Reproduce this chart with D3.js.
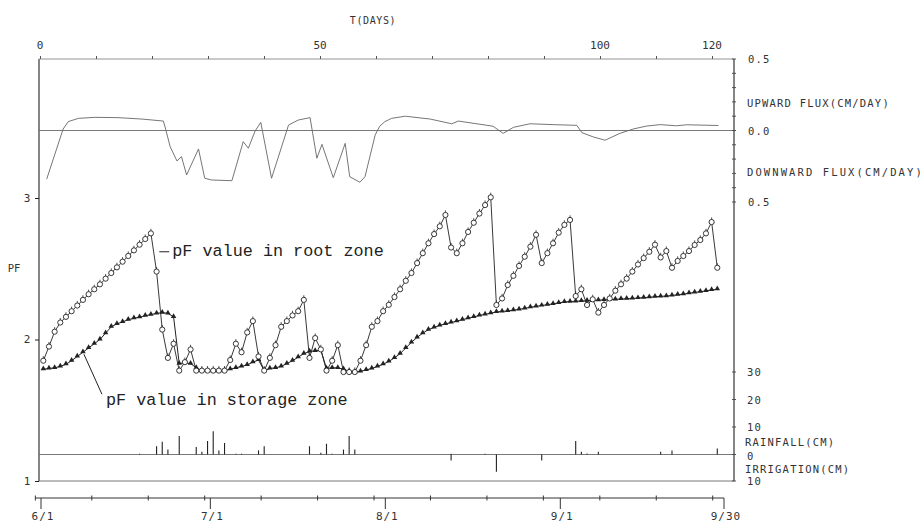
<!DOCTYPE html>
<html><head><meta charset="utf-8">
<script src="https://cdn.jsdelivr.net/npm/d3@7"></script>
<style>body{margin:0;background:#fff}svg{display:block}</style>
</head><body>
<svg id="chart" width="924" height="530"></svg>
<script>
// ---------- data ----------
// pF value in root zone, one value per day (day 0 = 6/1)
const rootPF = [
 1.85,1.95,2.055,2.12,2.16,2.20,2.24,2.28,2.32,2.355,2.39,2.43,2.47,2.51,2.55,2.59,2.63,2.67,2.71,2.75,
 2.48,2.07,1.87,1.97,1.78,1.84,1.93,1.78,1.78,1.78,
 1.78,1.78,1.78,1.855,1.97,1.91,2.05,2.13,1.88,1.78,
 1.87,1.96,2.09,2.13,2.17,2.20,2.28,1.87,2.01,1.93,
 1.78,1.85,1.96,1.77,1.77,1.77,1.85,1.96,2.09,2.13,
 2.20,2.245,2.30,2.355,2.415,2.47,2.54,2.61,2.68,2.745,
 2.80,2.88,2.65,2.61,2.68,2.76,2.825,2.89,2.95,3.005,
 2.244,2.29,2.385,2.45,2.52,2.585,2.656,2.74,2.54,2.61,
 2.68,2.755,2.81,2.845,2.307,2.355,2.244,2.284,2.19,2.244,
 2.29,2.345,2.39,2.43,2.48,2.53,2.575,2.62,2.67,2.58,
 2.625,2.507,2.555,2.59,2.625,2.668,2.703,2.75,2.83,2.507];
// pF value in storage zone, one value per day
const storagePF = [
 1.79,1.795,1.80,1.81,1.825,1.85,1.88,1.91,1.94,1.97,
 2.00,2.045,2.09,2.11,2.125,2.14,2.15,2.158,2.168,2.176,
 2.185,2.19,2.185,2.16,1.83,1.835,1.83,1.80,1.78,1.777,
 1.777,1.777,1.78,1.79,1.80,1.81,1.82,1.84,1.855,1.78,
 1.795,1.80,1.81,1.83,1.85,1.875,1.90,1.915,1.92,1.925,
 1.795,1.80,1.80,1.79,1.775,1.77,1.775,1.785,1.795,1.81,
 1.825,1.845,1.87,1.90,1.94,1.98,2.015,2.045,2.07,2.085,
 2.10,2.11,2.12,2.13,2.14,2.15,2.16,2.17,2.178,2.186,
 2.195,2.198,2.202,2.207,2.213,2.22,2.228,2.234,2.24,2.246,
 2.252,2.259,2.265,2.268,2.27,2.272,2.274,2.276,2.278,2.28,
 2.282,2.284,2.286,2.288,2.29,2.293,2.296,2.299,2.302,2.305,
 2.307,2.311,2.316,2.321,2.327,2.333,2.338,2.344,2.35,2.355];
// flux (cm/day), positive = upward
const fluxDay = [0.6,3.5,4.4,6.2,9.1,13.2,17.4,21.2,21.6,22.4,23.6,24.4,25.3,27.4,28.5,29.7,33.3,35.3,36.2,37.4,38.4,40.3,43.3,45,47.1,48.3,49.2,51.2,53.3,54.1,55.9,56.8,58.6,59.4,60.3,61.5,63.9,68.3,72.1,73.3,79.4,81.2,83,85.9,90,94.2,95.1,97.1,99.2,101.8,104.2,106.5,108.9,111.8,113.6,119.2];
const fluxValue = [-0.34,0.01,0.062,0.085,0.092,0.09,0.08,0.066,0.01,-0.113,-0.213,-0.183,-0.311,-0.129,-0.334,-0.346,-0.351,-0.078,-0.124,-0.003,0.057,-0.334,0.038,0.073,0.09,-0.194,-0.097,-0.33,-0.09,-0.323,-0.362,-0.323,-0.031,0.03,0.062,0.085,0.10,0.08,0.047,0.066,0.03,-0.02,0.022,0.047,0.041,0.036,-0.015,-0.045,-0.068,-0.02,0.011,0.031,0.041,0.033,0.04,0.035];
// rainfall (cm)
const rainDay = [17,20,21,22,24,27,28,29,30,31,32,34,35,38,39,47,49,50,51,53,54,55,72,78,94,95,96,98,109,111,119];
const rainCm  = [0.3,3,4.6,1.8,6.7,2.7,1,4.9,8.5,1.5,4.2,0.3,0.3,1.5,3,3,0.6,3.9,0.3,1.8,6.7,1.8,0.3,0.3,4.9,1,0.4,1,1,1.5,2.2];
// irrigation (cm)
const irrDay = [72,80,88];
const irrCm  = [2.3,6.5,2.3];
// tick labels
const dayTickLabels = [0,50,100,120];
const pfTickLabels = [1,2,3];
const fluxTickValues = [0.5,0,-0.5];
const fluxTickLabels = ["0.5","0.0","0.5"];
const rainTickValues = [30,20,10,0];
const irrTickValues = [10];
const dateLabels = ["6/1","7/1","8/1","9/1","9/30"];
const dateValues = [new Date(2001,5,1),new Date(2001,6,1),new Date(2001,7,1),new Date(2001,8,1),new Date(2001,8,30)];

// ---------- scales ----------
const x = d3.scaleLinear([0,119],[43.3,717.3]);          // daily data
const xTop = d3.scaleLinear([0,120],[40,712]);           // T(DAYS) axis
const xDate = d3.scaleTime([dateValues[0], dateValues[4]],[41,724]);
const yPF = d3.scaleLinear([1,3],[481,198]);
const yFlux = d3.scaleLinear([-0.5,0.5],[202,59]);
const yRain = d3.scaleLinear([0,30],[454.5,372]);
const yIrr = d3.scaleLinear([0,10],[454.5,481]);

const svg = d3.select("#chart");
const ink = "#222", grey = "#6a6a6a";
const plotFont = "DejaVu Sans Mono, monospace";
const xL = 39, xR = 734;

// ---------- frame lines ----------
const g = svg.append("g").attr("fill","none");
g.append("line").attr("x1",xL).attr("x2",xL).attr("y1",yFlux(0.5)).attr("y2",yPF(1)).attr("stroke",ink).attr("stroke-width",1.1);
g.append("line").attr("x1",xR).attr("x2",xR).attr("y1",yFlux(0.5)).attr("y2",yPF(1)).attr("stroke",ink).attr("stroke-width",1.1);
[[yFlux(0.5),"#888"],[yFlux(0),grey],[yRain(0),grey],[yPF(1),grey]].forEach(([yy,c])=>{
  g.append("line").attr("x1",xL).attr("x2",xR).attr("y1",yy).attr("y2",yy).attr("stroke",c).attr("stroke-width",0.9);
});

// top day axis
const topAxis = d3.axisTop(xTop).tickValues(d3.range(0,121,10)).tickSize(3).tickFormat("");
svg.append("g").attr("transform",`translate(0,${yFlux(0.5)})`).call(topAxis)
  .call(s=>{s.select(".domain").remove(); s.selectAll("line").attr("stroke","#555");});
svg.append("g").selectAll("text").data(dayTickLabels).join("text")
  .attr("x",d=>xTop(d)).attr("y",45).attr("text-anchor","middle").attr("dominant-baseline","central")
  .attr("font-family",plotFont).attr("font-size",11).attr("fill","#333").text(d=>d);
svg.append("text").attr("x",373).attr("y",20).attr("text-anchor","middle").attr("dominant-baseline","central")
  .attr("font-family",plotFont).attr("font-size",10).attr("letter-spacing",0.6).attr("fill","#333").text("T(DAYS)");

// left pF axis
const leftAxis = d3.axisLeft(yPF).tickValues(pfTickLabels).tickSize(4).tickFormat("");
svg.append("g").attr("transform",`translate(${xL},0)`).call(leftAxis)
  .call(s=>{s.select(".domain").remove(); s.selectAll("line").attr("stroke",ink);});
svg.append("g").selectAll("text").data(pfTickLabels).join("text")
  .attr("x",27).attr("y",d=>yPF(d)).attr("text-anchor","middle").attr("dominant-baseline","central")
  .attr("font-family",plotFont).attr("font-size",11).attr("fill","#333").text(d=>d);
svg.append("text").attr("x",14).attr("y",268).attr("text-anchor","middle").attr("dominant-baseline","central")
  .attr("font-family",plotFont).attr("font-size",10.5).attr("fill","#333").text("PF");

// right axis ticks
const rTicks = svg.append("g").attr("stroke","#444").attr("stroke-width",0.9);
d3.range(-5,6).map(i=>i/10).forEach(v=>{
  rTicks.append("line").attr("x1",xR-2).attr("x2",xR+2).attr("y1",yFlux(v)).attr("y2",yFlux(v));
});
rainTickValues.forEach(v=>rTicks.append("line").attr("x1",xR-2).attr("x2",xR+2).attr("y1",yRain(v)).attr("y2",yRain(v)));
irrTickValues.forEach(v=>rTicks.append("line").attr("x1",xR-2).attr("x2",xR+2).attr("y1",yIrr(v)).attr("y2",yIrr(v)));

const rLab = svg.append("g").attr("font-family",plotFont).attr("font-size",10.5).attr("fill","#333")
  .attr("letter-spacing",1.2).attr("dominant-baseline","central");
fluxTickValues.forEach((v,i)=>rLab.append("text").attr("x",748).attr("y",yFlux(v)).text(fluxTickLabels[i]));
rLab.append("text").attr("x",747).attr("y",yFlux(0.19)).text("UPWARD FLUX(CM/DAY)");
rLab.append("text").attr("x",747).attr("y",yFlux(-0.29)).attr("letter-spacing",2.1).text("DOWNWARD FLUX(CM/DAY)");
rainTickValues.forEach(v=>rLab.append("text").attr("x",747).attr("y",yRain(v)+(v===0?1:0)).text(v));
rLab.append("text").attr("x",745).attr("y",(yRain(0)+yRain(10))/2+1).text("RAINFALL(CM)");
rLab.append("text").attr("x",745).attr("y",(yIrr(0)+yIrr(10))/2+1).text("IRRIGATION(CM)");
irrTickValues.forEach(v=>rLab.append("text").attr("x",747).attr("y",yIrr(v)).text(v));

// ---------- flux curve ----------
const fluxPts = fluxDay.map((d,i)=>[x(d),yFlux(fluxValue[i])]);
svg.append("path").attr("d",d3.line()(fluxPts)).attr("fill","none").attr("stroke","#666").attr("stroke-width",0.9);

// ---------- rainfall & irrigation ----------
svg.append("g").selectAll("line").data(rainDay).join("line")
  .attr("x1",d=>x(d)).attr("x2",d=>x(d)).attr("y1",yRain(0)).attr("y2",(d,i)=>yRain(rainCm[i]))
  .attr("stroke",ink).attr("stroke-width",1.1);
svg.append("g").selectAll("line").data(irrDay).join("line")
  .attr("x1",d=>x(d)).attr("x2",d=>x(d)).attr("y1",yIrr(0)).attr("y2",(d,i)=>yIrr(irrCm[i]))
  .attr("stroke",ink).attr("stroke-width",1.1);

// ---------- storage zone ----------
const stPts = storagePF.map((v,i)=>[x(i),yPF(v)]);
svg.append("path").attr("d",d3.line()(stPts)).attr("fill","none").attr("stroke",ink).attr("stroke-width",1);
svg.append("g").selectAll("path").data(stPts).join("path")
  .attr("transform",d=>`translate(${d[0]},${d[1]-0.5})`)
  .attr("d",d3.symbol().type(d3.symbolTriangle).size(13)).attr("fill",ink);

// ---------- root zone ----------
const rtPts = rootPF.map((v,i)=>[x(i),yPF(v)]);
svg.append("path").attr("d",d3.line()(rtPts)).attr("fill","none").attr("stroke",ink).attr("stroke-width",0.9);
const rg = svg.append("g");
rg.selectAll("circle").data(rtPts).join("circle")
  .attr("cx",d=>d[0]).attr("cy",d=>d[1]).attr("r",2.6)
  .attr("fill","#fff").attr("stroke",ink).attr("stroke-width",0.9);
rg.selectAll("line").data(rtPts).join("line")
  .attr("x1",d=>d[0]).attr("x2",d=>d[0]).attr("y1",d=>d[1]-2.6).attr("y2",d=>d[1]-4.6)
  .attr("stroke",ink).attr("stroke-width",0.8);

// ---------- annotations ----------
const annFont = "Liberation Mono, Courier New, monospace";
const ra = [x(20.3)+1, yPF(2.62)];
svg.append("line").attr("x1",ra[0]).attr("x2",ra[0]+10).attr("y1",ra[1]).attr("y2",ra[1]).attr("stroke",ink).attr("stroke-width",1);
svg.append("text").attr("x",ra[0]+13).attr("y",ra[1]+4.5).attr("font-family",annFont).attr("font-size",16.8)
  .attr("fill","#222").text("pF value in root zone");
const sa = [x(7), yPF(storagePF[7])];
svg.append("line").attr("x1",sa[0]+1).attr("y1",sa[1]+2).attr("x2",sa[0]+19).attr("y2",sa[1]+42).attr("stroke",ink).attr("stroke-width",1);
svg.append("text").attr("x",sa[0]+23).attr("y",sa[1]+53).attr("font-family",annFont).attr("font-size",16.8)
  .attr("fill","#222").text("pF value in storage zone");

// ---------- date axis ----------
const yD = 498;
const da = svg.append("g").attr("stroke","#333").attr("stroke-width",1);
da.append("line").attr("x1",xDate(d3.timeDay.offset(dateValues[0],-1))).attr("x2",xDate(dateValues[4])).attr("y1",yD).attr("y2",yD);
d3.range(-1,120,10).forEach(k=>{
  const xx = xDate(d3.timeDay.offset(dateValues[0],k));
  da.append("line").attr("x1",xx).attr("x2",xx).attr("y1",yD-2.5).attr("y2",yD+2.5);
});
dateValues.forEach(dv=>da.append("line").attr("x1",xDate(dv)).attr("x2",xDate(dv)).attr("y1",yD).attr("y2",yD+11));
svg.append("g").selectAll("text").data(dateLabels).join("text")
  .attr("x",(d,i)=>xDate(dateValues[i])+2).attr("y",516).attr("text-anchor","middle").attr("dominant-baseline","central")
  .attr("font-family",plotFont).attr("font-size",11).attr("letter-spacing",1).attr("fill","#333").text(d=>d);
</script>
</body></html>
